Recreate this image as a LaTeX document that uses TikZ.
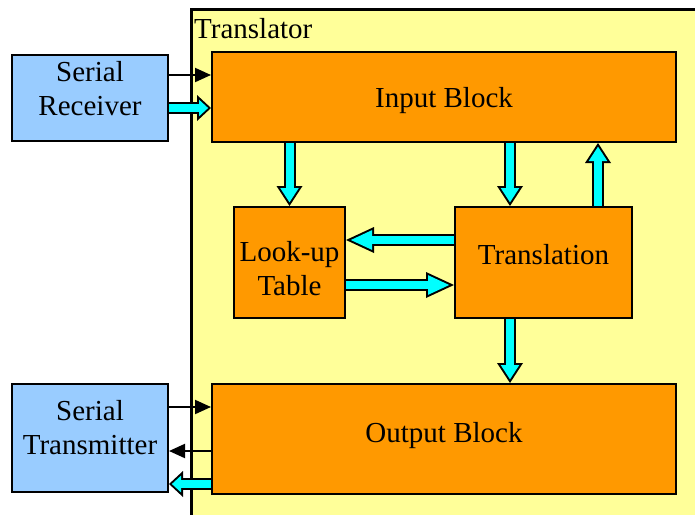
\documentclass[tikz,border=0pt]{standalone}
\usepackage{fontspec}
\setmainfont{Liberation Serif}
\usetikzlibrary{arrows.meta}
\definecolor{boxorange}{HTML}{FF9900}
\definecolor{portblue}{HTML}{99CCFF}
\definecolor{bgyellow}{HTML}{FFFF99}
\definecolor{buscyan}{HTML}{00FFFF}
\tikzset{
  block/.style={draw, line width=2pt, fill=boxorange, inner sep=0pt},
  port/.style={block, fill=portblue},
  txt/.style={align=center, inner sep=0pt},
  wire/.style={line width=2pt, -{Triangle[length=16pt,width=14pt]}},
  bus/.style n args={4}{line width=12pt, -{Triangle[length=#1,width=26pt,line width=0pt]},
    postaction={draw, buscyan, line width=8pt, -{Triangle[length=#2,width=#3,line width=0pt]}, shorten >=#4}},
  busshort/.style={bus={14pt}{9.1pt}{16.8pt}{2.9pt}},
  busmid/.style={bus={20pt}{14.3pt}{18.6pt}{3.7pt}},
  buslong/.style={bus={28pt}{21.2pt}{19.7pt}{4.8pt}},
}
\begin{document}
\begin{tikzpicture}[x=1pt, y=-1pt, font=\fontsize{29}{34}\selectfont]
    \useasboundingbox (0,0) rectangle (695,514);

    % Translator
    \draw[line width=2.5pt, fill=bgyellow] (191.5,9.5) rectangle (720,540);
    \node[anchor=base west, inner sep=0pt] (title) at (194,38) {Translator};

    % Serial ports
    \node[port, minimum width=156pt, minimum height=86pt,
      label={[txt, yshift=9.5pt]center:Serial\\Receiver}] (recv) at (90,98) {};
    \node[port, minimum width=156pt, minimum height=108pt,
      label={[txt, yshift=10pt]center:Serial\\Transmitter}] (xmit) at (90,438) {};

    % Blocks
    \node[block, minimum width=464pt, minimum height=90pt,
      label={[txt, yshift=-4pt]center:Input Block}] (input) at (444,97) {};
    \node[block, minimum width=464pt, minimum height=110pt,
      label={[txt, yshift=3pt]center:Output Block}] (output) at (444,439) {};
    \node[block, minimum width=111pt, minimum height=111pt,
      label={[txt, yshift=-6pt]center:Look-up\\Table}] (lut) at (289.5,262.5) {};
    \node[block, minimum width=177pt, minimum height=111pt,
      label={[txt, yshift=7.5pt]center:Translation}] (xlat) at (543.5,262.5) {};

    % Receiver to input
    \draw[wire] (recv.east |- 0,75) -- (input.west |- 0,75);
    \draw[busshort] (recv.east |- 0,108) -- (input.west |- 0,108);

    % Inside the translator
    \draw[busmid] (input.south -| lut.north) -- (lut.north);
    \draw[busmid] (input.south -| 510,0) -- (xlat.north -| 510,0);
    \draw[busmid] (xlat.north -| 598,0) -- (input.south -| 598,0);
    \draw[buslong] (xlat.west |- 0,240) -- (lut.east |- 0,240);
    \draw[buslong] (lut.east |- 0,285) -- (xlat.west |- 0,285);
    \draw[busmid] (xlat.south -| 510,0) -- (output.north -| 510,0);

    % Output to transmitter
    \draw[wire] (xmit.east |- 0,407) -- (output.west |- 0,407);
    \draw[wire] (output.west |- 0,451) -- (xmit.east |- 0,451);
    \draw[busshort] (output.west |- 0,484) -- (xmit.east |- 0,484);
\end{tikzpicture}
\end{document}
